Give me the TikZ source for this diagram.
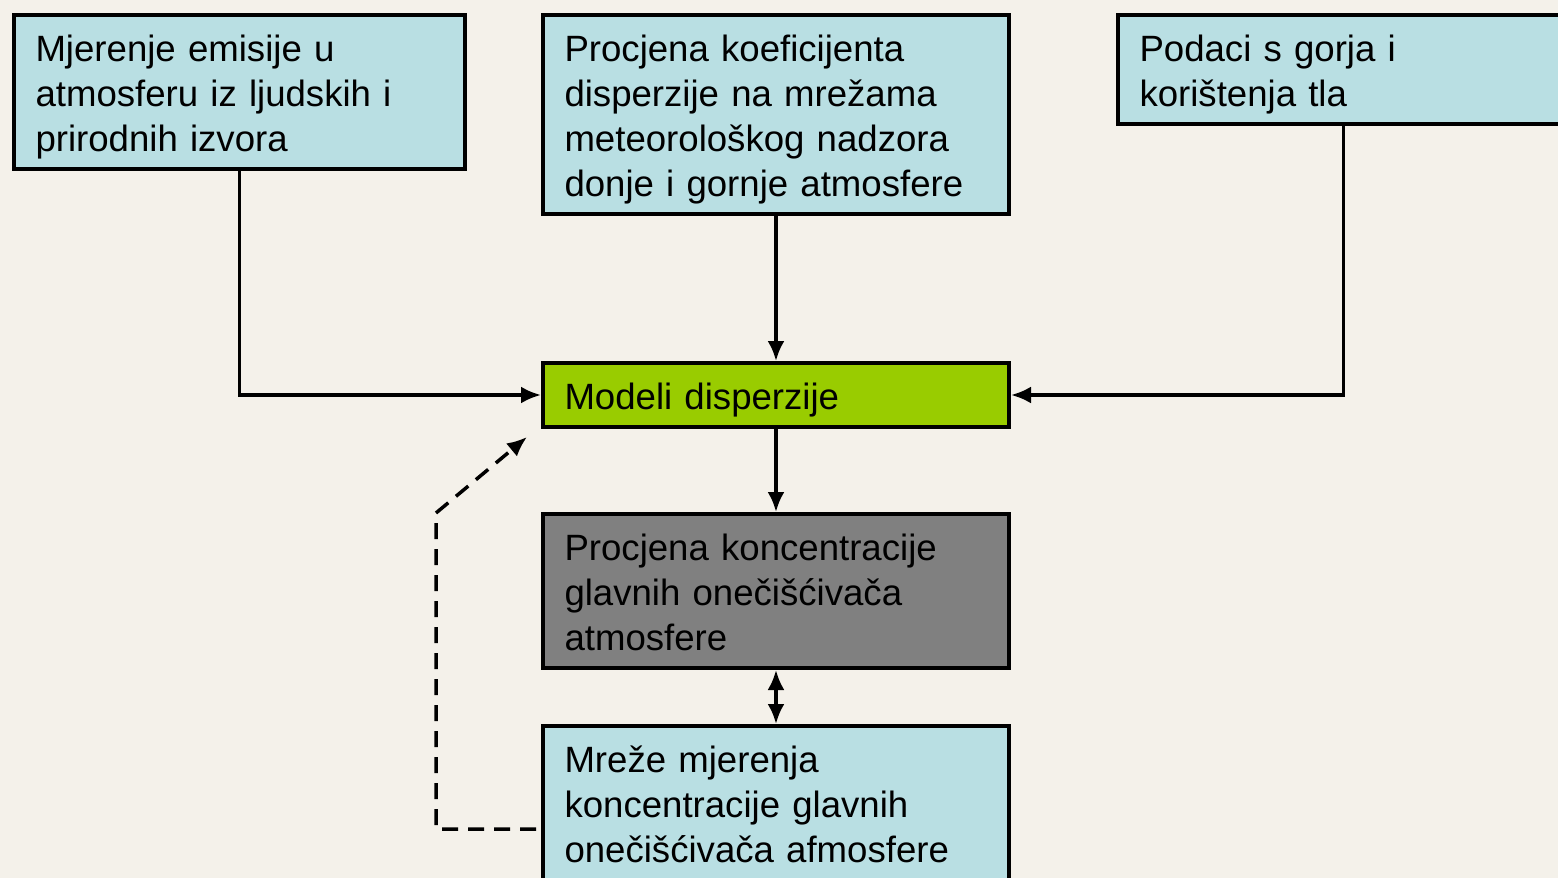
\documentclass[tikz,border=0pt]{standalone}
\usepackage{fontspec}
\setmainfont{Liberation Sans}
\usetikzlibrary{shapes,arrows,arrows.meta}
\definecolor{bgcol}{HTML}{F4F1EA}
\definecolor{boxcyan}{HTML}{B9DFE3}
\definecolor{modelgreen}{HTML}{99CC00}
\definecolor{estgray}{HTML}{808080}
\tikzstyle{block} = [rectangle, draw, line width=4pt, fill=boxcyan,
    anchor=north west, align=left, inner xsep=21.5pt, inner ysep=10pt,
    text height=36pt, font=\fontsize{36.6}{45}\selectfont]
\tikzstyle{line} = [draw, line width=3.5pt, -{Latex[length=20pt,width=17pt]}]
\tikzstyle{dashline} = [draw, line width=3.5pt, dash pattern=on 16pt off 10pt,
    -{Latex[length=20pt,width=17pt]}]

\begin{document}
\begin{tikzpicture}[x=1pt, y=-1pt]
\path [fill=bgcol, use as bounding box] (0,0) rectangle (1558,878);
    % Place nodes
\node [block, text width=408pt, text depth=98pt] (emis) at (12,13)
    {Mjerenje emisije u\\atmosferu iz ljudskih i\\prirodnih izvora};
\node [block, text width=423pt, text depth=143pt] (koef) at (541,13)
    {Procjena koeficijenta\\disperzije na mrežama\\meteorološkog nadzora\\donje i gornje atmosfere};
\node [block, text width=408pt, text depth=53pt] (tlo) at (1116,13)
    {Podaci s gorja i\\korištenja tla};
\node [block, fill=modelgreen, text width=423pt, text depth=8pt] (model) at (541,361)
    {Modeli disperzije};
\node [block, fill=estgray, text width=423pt, text depth=98pt] (konc) at (541,512)
    {Procjena koncentracije\\glavnih onečišćivača\\atmosfere};
\node [block, text width=423pt, text depth=98pt] (mreze) at (541,724)
    {Mreže mjerenja\\koncentracije glavnih\\onečišćivača afmosfere};
\coordinate (bend) at (436,513);
\coordinate (tip) at (527,437);

    % Draw edges
\path [line] (emis.south) |- (model.west);
\path [line] (koef) -- (model);
\path [line] (tlo.south) |- (model.east);
\path [line] (model) -- (konc);
\path [line, {Latex[length=20pt,width=17pt]}-{Latex[length=20pt,width=17pt]}] (konc) -- (mreze);
\path [dashline] ([yshift=-26pt, xshift=-5pt]mreze.west) -| (bend) -- (tip);

\end{tikzpicture}
\end{document}
